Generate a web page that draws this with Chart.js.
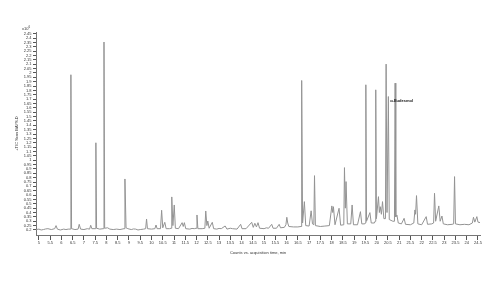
<!DOCTYPE html>
<html>
<head>
<meta charset="utf-8">
<script src="https://cdn.jsdelivr.net/npm/chart.js@4.4.1/dist/chart.umd.min.js"></script>
<style>
  html, body { margin: 0; padding: 0; background: #fff; }
  #wrap { width: 496px; height: 281px; }
</style>
</head>
<body>
<div id="wrap"><canvas id="tic-chart" width="496" height="281"></canvas></div>
<script>
// retention time (min) and abundance (x10^6 counts)
var rtMin = [4.87,5.0,5.1,5.2,5.3,5.4,5.55,5.7,5.76,5.82,5.95,6.1,6.2,6.3,6.39,6.42,6.45,6.6,6.74,6.79,6.85,7.0,
  7.15,7.25,7.30,7.35,7.5,7.53,7.56,7.7,7.86,7.89,7.92,8.05,8.15,8.3,8.45,8.6,8.78,8.82,8.87,8.95,
  9.1,9.2,9.3,9.4,9.5,9.65,9.74,9.78,9.82,10.0,10.15,10.2,10.25,10.4,10.45,10.5,10.59,10.65,10.8,10.87,10.9,10.95,
  11.01,11.06,11.2,11.36,11.41,11.46,11.52,11.7,11.8,11.9,11.98,12.02,12.06,12.25,12.37,12.41,12.46,12.5,12.56,12.7,12.76,
  12.9,13.0,13.1,13.27,13.35,13.5,13.6,13.8,13.96,14.02,14.2,14.45,14.52,14.59,14.66,14.73,14.8,15.0,15.1,15.2,15.34,15.4,15.55,
  15.67,15.73,15.9,15.97,16.01,16.05,16.1,16.3,16.5,16.64,16.67,16.71,16.79,16.85,17.0,17.09,17.15,17.21,17.24,17.28,17.5,
  17.7,17.9,18.01,18.05,18.08,18.15,18.33,18.4,18.54,18.57,18.61,18.64,18.7,18.85,18.91,18.97,19.15,19.28,19.34,19.47,
  19.49,19.52,19.55,19.7,19.76,19.9,19.93,19.96,19.99,20.08,20.12,20.16,20.21,20.26,20.32,20.39,20.42,20.46,20.49,20.52,20.56,20.72,20.79,
  20.82,20.85,20.9,20.96,21.1,21.22,21.28,21.5,21.65,21.7,21.73,21.77,21.83,22.0,22.2,22.26,22.45,22.53,22.57,22.62,
  22.76,22.82,22.9,22.96,23.15,23.35,23.42,23.46,23.5,23.7,23.9,24.1,24.25,24.3,24.36,24.45,24.5,24.59];
var countsE6 = [0.205,0.21,0.2,0.205,0.212,0.215,0.205,0.215,0.25,0.21,0.2,0.21,0.205,0.21,0.21,1.98,0.215,0.205,0.21,0.265,0.21,0.205,
  0.215,0.21,0.254,0.215,0.215,1.20,0.22,0.21,0.215,2.355,0.22,0.225,0.21,0.205,0.21,0.205,0.215,0.785,0.225,0.215,
  0.205,0.212,0.21,0.2,0.205,0.21,0.215,0.326,0.215,0.21,0.215,0.257,0.215,0.215,0.426,0.225,0.288,0.215,0.215,0.22,0.579,0.25,
  0.487,0.22,0.215,0.284,0.24,0.284,0.215,0.21,0.218,0.215,0.22,0.372,0.215,0.215,0.22,0.418,0.25,0.303,0.22,0.288,0.215,
  0.21,0.218,0.215,0.246,0.21,0.22,0.215,0.21,0.265,0.215,0.215,0.288,0.23,0.277,0.235,0.284,0.22,0.215,0.225,0.22,0.265,0.22,0.22,
  0.265,0.225,0.23,0.26,0.346,0.28,0.24,0.235,0.235,0.24,1.914,0.28,0.525,0.25,0.245,0.42,0.27,0.26,0.823,0.25,0.24,
  0.245,0.25,0.476,0.4,0.467,0.26,0.449,0.255,0.26,0.915,0.45,0.755,0.27,0.27,0.487,0.26,0.26,0.41,0.27,0.27,
  0.28,1.865,0.3,0.399,0.28,0.28,0.3,1.807,0.33,0.582,0.40,0.467,0.38,0.525,0.33,0.33,2.102,0.4,0.4,1.73,0.32,0.3,0.3,
  1.884,0.35,0.372,0.28,0.27,0.334,0.265,0.26,0.28,0.43,0.38,0.594,0.27,0.26,0.353,0.265,0.27,0.28,0.621,0.3,
  0.476,0.3,0.36,0.27,0.26,0.265,0.27,0.812,0.27,0.26,0.265,0.26,0.28,0.346,0.29,0.353,0.29,0.285];

var xTicks = [5,5.5,6,6.5,7,7.5,8,8.5,9,9.5,10,10.5,11,11.5,12,12.5,13,13.5,14,14.5,
  15,15.5,16,16.5,17,17.5,18,18.5,19,19.5,20,20.5,21,21.5,22,22.5,23,23.5,24,24.5];
var yTicks = [0.2,0.25,0.3,0.35,0.4,0.45,0.5,0.55,0.6,0.65,0.7,0.75,0.8,0.85,0.9,0.95,1,1.05,1.1,1.15,
  1.2,1.25,1.3,1.35,1.4,1.45,1.5,1.55,1.6,1.65,1.7,1.75,1.8,1.85,1.9,1.95,2,2.05,2.1,2.15,
  2.2,2.25,2.3,2.35,2.4,2.45];

var peakLabel = { text: 'α-Eudesmol', x: 20.6, y: 1.683 };

var tickFont = { family: 'Liberation Sans', size: 4 };

// extra text: the x10^6 multiplier and the compound label
var extras = {
  id: 'extras',
  afterDraw: function(chart) {
    var ctx = chart.ctx;
    var xs = chart.scales.x, ys = chart.scales.y;
    ctx.save();
    ctx.fillStyle = '#333';
    ctx.textBaseline = 'middle';
    ctx.font = '4px "Liberation Sans"';
    ctx.fillText('x10', 22, 29);
    ctx.font = '3px "Liberation Sans"';
    ctx.fillText('6', 28.5, 27.3);
    ctx.fillStyle = '#111';
    ctx.font = 'bold 4px "Liberation Sans"';
    ctx.fillText(peakLabel.text, xs.getPixelForValue(peakLabel.x), ys.getPixelForValue(peakLabel.y));
    ctx.restore();
  }
};

new Chart(document.getElementById('tic-chart'), {
  type: 'line',
  data: {
    datasets: [{
      data: rtMin.map(function(t, i) { return { x: t, y: countsE6[i] }; }),
      borderColor: '#939393',
      borderWidth: 1,
      pointRadius: 0,
      tension: 0,
      fill: false
    }]
  },
  options: {
    responsive: false,
    animation: false,
    layout: { padding: { top: 32, right: 16, bottom: 0, left: 0 } },
    plugins: { legend: { display: false }, tooltip: { enabled: false } },
    scales: {
      x: {
        type: 'linear',
        min: 4.87,
        max: 24.59,
        afterFit: function(s) { s.height = 46; },
        afterBuildTicks: function(s) { s.ticks = xTicks.map(function(v) { return { value: v }; }); },
        grid: { display: true, drawOnChartArea: false, tickLength: 5, color: '#555' },
        border: { display: true, color: '#777' },
        ticks: {
          autoSkip: false, maxRotation: 0, padding: 0, color: '#333', font: tickFont,
          callback: function(v) { return String(v); }
        },
        title: {
          display: true, text: 'Counts vs. acquisition time, min', color: '#333',
          font: tickFont, padding: { top: 0, bottom: 26 }
        }
      },
      y: {
        min: 0.1425,
        max: 2.47,
        afterFit: function(s) { s.width = 36; },
        afterBuildTicks: function(s) { s.ticks = yTicks.map(function(v) { return { value: v }; }); },
        grid: { display: true, drawOnChartArea: false, tickLength: 3, color: '#555' },
        border: { display: true, color: '#777' },
        ticks: {
          autoSkip: false, padding: 1.5, color: '#333', font: tickFont,
          callback: function(v) { return String(v); }
        },
        title: {
          display: true, text: '+TIC Scan BAYS.D', color: '#333',
          font: tickFont, padding: { top: 14, bottom: 0 }
        }
      }
    }
  },
  plugins: [extras]
});
</script>
</body>
</html>
